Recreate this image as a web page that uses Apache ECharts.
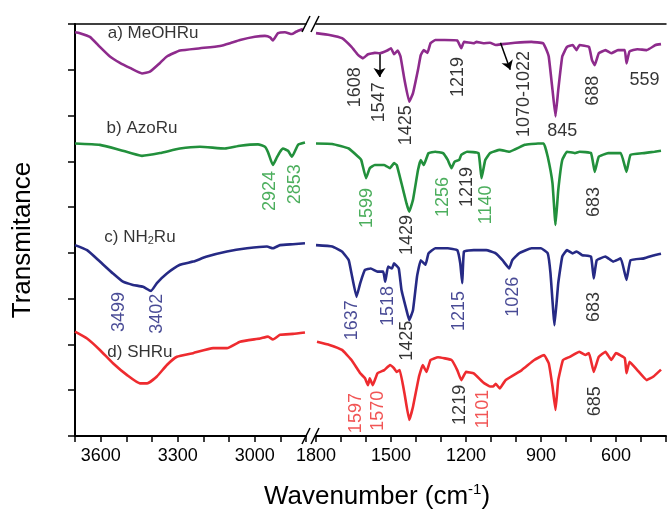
<!DOCTYPE html>
<html><head><meta charset="utf-8">
<script src="https://cdn.jsdelivr.net/npm/echarts@6/dist/echarts.min.js"></script>
<style>html,body{margin:0;padding:0;background:#fff}#c{width:669px;height:512px}</style>
</head><body><div id="c"></div>
<script>
// ---- data: [wavenumber (cm-1), offset transmittance] ----
const spectrumA = [[3700,88.2],[3681,88.0],[3642,87.2],[3603,85.0],[3564,82.9],[3525,81.5],[3486,80.4],[3439,79.2],[3408,79.6],[3369,81.5],[3342,82.9],[3291,84.2],[3213,84.7],[3135,85.2],[3096,85.8],[3057,86.5],[2999,87.2],[2960,87.4],[2940,87.1],[2929,86.4],[2909,88.0],[2882,88.2],[2855,87.8],[2839,88.3],[2812,88.9],
  [1800,88.0],[1746,87.6],[1696,86.9],[1658,85.0],[1631,83.2],[1612,82.5],[1592,83.4],[1565,83.7],[1546,83.6],[1515,84.2],[1500,84.7],[1488,83.4],[1473,84.2],[1462,82.9],[1446,77.8],[1427,73.0],[1412,74.9],[1392,80.0],[1381,83.2],[1369,84.3],[1354,83.7],[1342,85.8],[1323,86.5],[1285,86.5],[1235,86.4],[1219,84.7],[1208,86.1],[1169,85.8],[1158,86.1],[1131,85.8],[1104,85.9],[1081,85.4],[1054,85.6],[1004,85.9],[938,86.1],[892,85.8],[881,84.7],[869,82.9],[854,75.6],[842,69.8],[831,75.6],[815,82.9],[796,85.0],[773,85.4],[758,84.3],[746,85.4],[708,85.0],[696,82.1],[685,81.0],[669,83.6],[642,84.3],[619,83.6],[592,84.3],[565,84.3],[558,81.4],[546,84.0],[515,84.5],[477,84.3],[442,85.4],[420,85.6]];
const spectrumB = [[3700,63.9],[3603,63.6],[3525,62.5],[3439,61.2],[3369,61.8],[3291,62.8],[3213,63.2],[3116,62.8],[3057,63.4],[2987,63.7],[2960,63.2],[2948,62.0],[2929,59.2],[2913,60.9],[2901,62.1],[2890,62.8],[2870,62.3],[2855,61.0],[2831,63.6],[2804,64.1],
  [1800,63.9],[1735,63.8],[1669,62.8],[1631,61.0],[1619,60.3],[1600,56.3],[1585,58.5],[1565,59.2],[1527,59.2],[1504,58.5],[1488,59.6],[1477,59.2],[1458,55.2],[1438,50.8],[1427,49.0],[1412,51.6],[1392,58.1],[1381,60.3],[1369,59.2],[1350,61.8],[1323,62.1],[1292,61.8],[1273,60.3],[1258,58.5],[1246,59.9],[1227,60.3],[1219,61.4],[1196,62.1],[1150,61.8],[1138,56.3],[1123,60.3],[1104,61.8],[1065,62.5],[1027,62.1],[965,63.6],[912,63.9],[889,63.9],[873,61.0],[854,55.2],[842,46.1],[831,53.7],[815,60.3],[796,62.1],[765,61.8],[746,62.1],[700,61.8],[685,57.7],[669,61.0],[631,61.8],[581,61.8],[558,57.7],[542,61.4],[488,61.8],[446,62.1],[420,62.3]];
const spectrumC = [[3700,41.7],[3653,40.6],[3603,38.1],[3552,35.5],[3513,33.7],[3474,33.0],[3435,32.6],[3404,31.7],[3381,33.4],[3342,35.5],[3291,37.4],[3240,38.1],[3186,39.2],[3108,40.3],[3030,41.0],[2952,41.4],[2929,41.0],[2901,41.7],[2851,41.9],[2804,42.1],
  [1800,41.7],[1735,41.4],[1696,40.3],[1669,38.4],[1658,35.5],[1638,30.4],[1623,33.4],[1604,36.3],[1581,36.6],[1554,35.9],[1531,35.9],[1523,33.7],[1512,37.0],[1496,36.6],[1488,37.7],[1469,36.6],[1458,31.9],[1438,27.5],[1427,25.3],[1412,27.5],[1396,34.8],[1381,38.4],[1362,37.4],[1350,39.9],[1323,41.0],[1273,41.0],[1235,40.6],[1223,37.7],[1215,33.4],[1208,40.3],[1169,40.6],[1119,40.6],[1081,39.9],[1054,38.4],[1027,36.6],[1015,38.4],[988,39.9],[938,41.0],[900,41.0],[873,39.9],[862,35.5],[846,24.2],[831,33.4],[815,39.2],[796,40.6],[773,39.9],[758,40.3],[735,39.5],[700,39.2],[689,34.4],[677,38.4],[642,39.2],[612,38.1],[581,38.8],[558,34.1],[542,38.4],[488,38.8],[446,39.5],[420,39.8]];
const spectrumD = [[3700,22.8],[3653,21.3],[3603,18.8],[3552,15.9],[3497,13.3],[3447,11.5],[3419,11.5],[3381,13.0],[3342,15.5],[3303,17.3],[3240,18.1],[3162,19.2],[3108,19.2],[3057,20.6],[2979,21.3],[2948,21.7],[2929,21.1],[2901,22.1],[2851,22.3],[2804,22.6],
  [1796,20.6],[1746,19.9],[1696,18.8],[1658,16.6],[1623,13.7],[1604,12.6],[1592,11.1],[1585,12.6],[1573,11.1],[1554,13.7],[1527,14.4],[1504,15.5],[1488,14.8],[1477,14.0],[1465,14.4],[1446,9.3],[1427,3.5],[1412,6.4],[1388,13.0],[1373,15.5],[1358,14.0],[1342,16.6],[1312,17.2],[1258,16.6],[1235,14.4],[1219,12.2],[1200,14.0],[1169,13.7],[1131,11.7],[1104,10.8],[1092,10.8],[1081,11.4],[1065,10.4],[1042,12.2],[977,14.4],[927,16.6],[888,17.7],[869,15.9],[854,10.8],[842,5.7],[831,12.2],[812,16.6],[785,17.3],[746,18.4],[723,17.7],[708,18.1],[689,14.0],[669,17.3],[642,18.4],[619,16.6],[600,18.1],[565,17.0],[558,13.7],[546,16.2],[515,14.4],[477,12.2],[450,13.0],[420,14.5]];

const seriesNameRich = ['{n|a) MeOHRu}','{n|b) AzoRu}','{n|c) NH}{s|2}{n|Ru}','{n|d) SHRu}'];
const seriesNamePos = [[3396,88.0],[3439,67.3],[3447,43.5],[3447,18.3]];
const lineColors = ['#8E2B8C','#22903C','#262A85','#EE2B2F'];
const textColors = ['#000000','#1F9A35','#1A1D7A','#EE2A2A'];
const leftTicks = [3600,3300,3000];
const rightTicks = [1800,1500,1200,900,600];

// peak annotations: [wavenumber, y, text, colourIndex(0=black), rotated]
const peakLabels = [
  [1643,76.2,'1608',0,1],[1546,72.9,'1547',0,1],[1438,67.9,'1425',0,1],[1231,78.4,'1219',0,1],[969,74.7,'1070-1022',0,1],[815,66.6,'845',0,0],[692,75.4,'688',0,1],
  [2940,53.5,'2924',1,1],[2843,55.0,'2853',1,1],[1596,49.8,'1599',1,1],[1435,43.9,'1429',0,1],[1292,52.2,'1256',1,1],[1196,54.4,'1219',0,1],[1119,50.5,'1140',1,1],[689,51.1,'683',0,1],
  [3529,27.1,'3499',2,1],[3381,26.7,'3402',2,1],[1654,25.3,'1637',2,1],[1512,28.4,'1518',2,1],[1435,20.8,'1425',0,1],[1227,27.3,'1215',2,1],[1012,30.4,'1026',2,1],[689,28.2,'683',0,1],
  [1638,5.0,'1597',3,1],[1550,5.5,'1570',3,1],[1223,6.8,'1219',0,1],[1131,5.9,'1101',3,1],[685,7.6,'685',0,1]
];
const leftLabel559 = [546,77.8,'559'];
// arrows: [[w1,y1],[w2,y2]]
const arrows = [[[1546,83.4],[1546,78.4]],[[1062,85.9],[1023,80.0]]];

const FONT = 'Liberation Sans, Arial, Helvetica, sans-serif';
const chart = echarts.init(document.getElementById('c'));

const Y0 = 24, H = 412;
const grids = [
  {left:75, top:Y0, width:231, height:H},
  {left:316, top:Y0, width:364, height:H}
];
function bottomAxis(gi, min, max, ticks){
  return {type:'value', gridIndex:gi, position:'bottom', inverse:true, min:min, max:max, interval:100,
    axisLine:{show:true, onZero:false, lineStyle:{color:'#000', width:2}},
    axisTick:{show:true, inside:false, length:6, lineStyle:{color:'#000', width:1.5}},
    axisLabel:{show:true, margin:11, color:'#000', fontSize:18, fontFamily:FONT, showMinLabel:true, showMaxLabel:true,
      formatter: v => ticks.indexOf(v) >= 0 ? String(v) : ''},
    splitLine:{show:false}};
}
function topAxis(gi, min, max){
  return {type:'value', gridIndex:gi, position:'top', inverse:true, min:min, max:max,
    axisLine:{show:true, onZero:false, lineStyle:{color:'#000', width:1.5}},
    axisTick:{show:false}, axisLabel:{show:false}, splitLine:{show:false}};
}
const xAxes = [bottomAxis(0,2800,3700,leftTicks), bottomAxis(1,400,1800,rightTicks), topAxis(0,2800,3700), topAxis(1,400,1800)];
const yAxes = [
  {type:'value', gridIndex:0, min:0, max:90, interval:10,
   axisLine:{show:true, onZero:false, lineStyle:{color:'#000', width:2}},
   axisTick:{show:true, inside:false, length:7, lineStyle:{color:'#000', width:1.5}},
   axisLabel:{show:false}, splitLine:{show:false}},
  {type:'value', gridIndex:1, min:0, max:90, interval:10, show:false, splitLine:{show:false}}
];

const spectra = [spectrumA, spectrumB, spectrumC, spectrumD];
const series = [];
spectra.forEach((s, i) => {
  series.push({type:'line', xAxisIndex:0, yAxisIndex:0, data:s.filter(p => p[0] >= 2800), showSymbol:false, symbol:'none', smooth:0.15,
    lineStyle:{color:lineColors[i], width:2.6}, silent:true, z:3});
  series.push({type:'line', xAxisIndex:1, yAxisIndex:1, data:s.filter(p => p[0] <= 1800), showSymbol:false, symbol:'none', smooth:0.1,
    lineStyle:{color:lineColors[i], width:2.6}, silent:true, z:3});
});

// arrows (line with arrow head at the end)
series.push({type:'line', xAxisIndex:1, yAxisIndex:1, data:[], silent:true, z:6,
  markLine:{silent:true, symbol:['none','arrow'], symbolSize:9, animation:false, precision:2,
    lineStyle:{color:'#000', width:1.5, type:'solid'}, label:{show:false}, emphasis:{disabled:true},
    data: arrows.map(a => [{coord:a[0]},{coord:a[1]}])}});

const noBorder = {textBorderWidth:0, textBorderColor:'transparent', textShadowBlur:0};

// series name labels
series.push({type:'scatter', xAxisIndex:0, yAxisIndex:0, symbolSize:0, silent:true, z:5,
  itemStyle:{color:'transparent'},
  data: seriesNamePos.map((p, i) => ({value:p, t:seriesNameRich[i]})),
  label:Object.assign({show:true, position:'inside', formatter:p => p.data.t, color:'#000',
    rich:{n:{fontSize:17, fontFamily:FONT, color:'#000', lineHeight:20, textBorderWidth:0},
          s:{fontSize:11, fontFamily:FONT, color:'#000', verticalAlign:'bottom', lineHeight:11, textBorderWidth:0}}}, noBorder)});

function peakItem(p){
  return {value:[p[0],p[1]], t:p[2], label:{color:textColors[p[3]], rotate:p[4] ? 90 : 0}};
}
const leftPeaks = peakLabels.filter(p => p[0] >= 2800);
const rightPeaks = peakLabels.filter(p => p[0] <= 1800);
[[0,leftPeaks],[1,rightPeaks]].forEach(([gi, list]) => {
  series.push({type:'scatter', xAxisIndex:gi, yAxisIndex:gi, symbolSize:0, silent:true, z:5,
    itemStyle:{color:'transparent'},
    data:list.map(peakItem),
    label:Object.assign({show:true, position:'inside', formatter:p => p.data.t, fontSize:18, fontFamily:FONT, align:'center', verticalAlign:'middle'}, noBorder)});
});
series.push({type:'scatter', xAxisIndex:1, yAxisIndex:1, symbolSize:0, silent:true, z:5,
  itemStyle:{color:'transparent'},
  data:[{value:[leftLabel559[0], leftLabel559[1]], t:leftLabel559[2]}],
  label:Object.assign({show:true, position:'right', distance:0, formatter:p => p.data.t, fontSize:18, fontFamily:FONT, color:'#000'}, noBorder)});

chart.setOption({
  animation:false,
  backgroundColor:'#fff',
  grid:grids,
  xAxis:xAxes,
  yAxis:yAxes,
  series:series
});

// axis break marks and titles
function brk(y){
  const xl = chart.convertToPixel({xAxisIndex:0}, 2800);
  const xr = chart.convertToPixel({xAxisIndex:1}, 1800);
  const cx = (xl + xr) / 2;
  return [
    {type:'line', shape:{x1:cx-9, y1:y+8, x2:cx-1, y2:y-8}, style:{stroke:'#000', lineWidth:1.5}, z:10},
    {type:'line', shape:{x1:cx, y1:y+8, x2:cx+8, y2:y-8}, style:{stroke:'#000', lineWidth:1.5}, z:10}
  ];
}
const yTop = chart.convertToPixel({yAxisIndex:0}, 90);
const yBot = chart.convertToPixel({yAxisIndex:0}, 0);
chart.setOption({
  graphic:[].concat(brk(yTop), brk(yBot), [
    {type:'text', x:377, y:497, style:{text:'{t|Wavenumber (cm}{u|-1}{t|)}', align:'center', verticalAlign:'middle',
      rich:{t:{fontSize:26, fontFamily:FONT, fill:'#000', lineHeight:30}, u:{fontSize:15, fontFamily:FONT, fill:'#000', verticalAlign:'top', lineHeight:18}}}},
    {type:'text', x:23, y:240, rotation:Math.PI/2, style:{text:'Transmitance', align:'center', verticalAlign:'middle', fontSize:26, fontFamily:FONT, fill:'#000'}}
  ])
});
</script></body></html>
